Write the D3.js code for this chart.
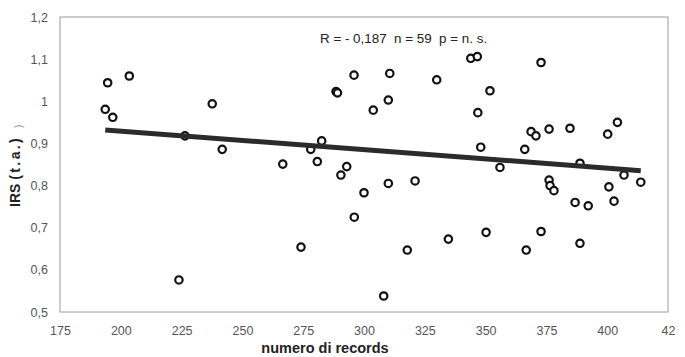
<!DOCTYPE html>
<meta charset="utf-8">
<head>
    <meta charset="utf-8">
    <title>IRS vs numero di records</title>
    <style>
        body { margin: 0; background: #fff; }
        svg { display: block; font-family: "Liberation Sans", Arial, sans-serif; }
    </style>
</head>
<body>
    <svg width="685" height="357"></svg>
    <script src="https://d3js.org/d3.v7.min.js"></script>
    <script>
        // numero di records (x) and IRS (t.a.) (y)
        var records = [194.6, 193.6, 196.7, 203.5, 223.9, 226.4, 237.6, 241.7, 266.6, 274.1,
            278.1, 280.8, 282.6, 288.5, 289.1, 290.5, 292.9, 295.9, 296.0, 300.0,
            303.8, 308.1, 310.0, 310.6, 310.0, 317.8, 321.0, 329.9, 334.7, 343.9,
            346.6, 346.8, 348.0, 350.2, 351.8, 355.9, 366.1, 366.7, 368.7, 370.7,
            372.8, 372.8, 376.1, 376.1, 376.5, 378.1, 384.7, 386.8, 388.8, 388.8,
            392.2, 400.2, 400.7, 402.8, 404.2, 406.9, 413.8];
        var irs = [1.044, 0.981, 0.962, 1.060, 0.576, 0.918, 0.994, 0.886, 0.851, 0.654,
            0.886, 0.857, 0.906, 1.023, 1.020, 0.825, 0.845, 1.062, 0.725, 0.783,
            0.979, 0.538, 1.003, 1.066, 0.805, 0.647, 0.811, 1.051, 0.673, 1.102,
            1.106, 0.973, 0.891, 0.689, 1.025, 0.843, 0.886, 0.647, 0.928, 0.918,
            1.092, 0.691, 0.934, 0.813, 0.800, 0.788, 0.936, 0.760, 0.853, 0.663,
            0.752, 0.922, 0.797, 0.763, 0.950, 0.825, 0.808];

        // regression line as drawn
        var fitIntercept = 1.0166;
        var fitSlope = -0.000438;

        var xTicks = [175, 200, 225, 250, 275, 300, 325, 350, 375, 400, 425];
        var xTickLabels = ["175", "200", "225", "250", "275", "300", "325", "350", "375", "400", "42"];
        var yTicks = [0.5, 0.6, 0.7, 0.8, 0.9, 1.0, 1.1, 1.2];
        var yTickLabels = ["0,5", "0,6", "0,7", "0,8", "0,9", "1", "1,1", "1,2"];

        var statsText = "R = - 0,187  n = 59  p = n. s.";

        var svg = d3.select("svg"),
            width = +svg.attr("width"),
            height = +svg.attr("height");

        var margin = { top: 17, right: 17, bottom: 45, left: 60 };
        var w = width - margin.left - margin.right,
            h = height - margin.top - margin.bottom;

        var g = svg.append("g")
            .attr("transform", "translate(" + margin.left + "," + margin.top + ")");

        var x = d3.scaleLinear().domain([175, 425]).range([0, w]);
        var y = d3.scaleLinear().domain([0.5, 1.2]).range([h, 0]);

        // frame
        g.append("rect")
            .attr("width", w)
            .attr("height", h)
            .attr("fill", "none")
            .attr("stroke", "#9a9a9a")
            .attr("stroke-width", 1);

        var xAxis = g.append("g")
            .attr("transform", "translate(0," + h + ")")
            .call(d3.axisBottom(x)
                .tickValues(xTicks)
                .tickSize(0)
                .tickPadding(14)
                .tickFormat(function (d, i) { return xTickLabels[i]; }));

        var yAxis = g.append("g")
            .call(d3.axisLeft(y)
                .tickValues(yTicks)
                .tickSize(0)
                .tickPadding(12)
                .tickFormat(function (d, i) { return yTickLabels[i]; }));

        [xAxis, yAxis].forEach(function (a) {
            a.select(".domain").remove();
            a.selectAll("text")
                .style("font-family", "Liberation Sans, Arial, sans-serif")
                .style("font-size", "12.5px")
                .style("fill", "#555");
        });

        var points = records.map(function (r, i) { return { x: r, y: irs[i] }; });

        // points
        g.append("g")
            .selectAll("circle")
            .data(points)
            .enter().append("circle")
            .attr("cx", function (d) { return x(d.x); })
            .attr("cy", function (d) { return y(d.y); })
            .attr("r", 3.7)
            .attr("fill", "#fff")
            .attr("stroke", "#111")
            .attr("stroke-width", 2.2);

        // regression line over the points
        var xExt = d3.extent(records);
        g.append("line")
            .attr("x1", x(xExt[0]))
            .attr("y1", y(fitIntercept + fitSlope * xExt[0]))
            .attr("x2", x(xExt[1]))
            .attr("y2", y(fitIntercept + fitSlope * xExt[1]))
            .attr("stroke", "#2b2b2b")
            .attr("stroke-width", 5);

        // stats annotation
        svg.append("text")
            .attr("x", 320)
            .attr("y", 43)
            .attr("xml:space", "preserve")
            .style("white-space", "pre")
            .style("font-size", "13.4px")
            .style("fill", "#222")
            .text(statsText);

        // axis titles
        svg.append("text")
            .attr("x", 325)
            .attr("y", 353)
            .attr("text-anchor", "middle")
            .style("font-size", "14.5px")
            .style("font-weight", "bold")
            .style("fill", "#222")
            .text("numero di records");

        var yTitle = svg.append("text")
            .attr("transform", "translate(20,207) rotate(-90)")
            .attr("text-anchor", "start")
            .style("font-size", "14px")
            .style("font-weight", "bold")
            .style("fill", "#222")
            .attr("xml:space", "preserve")
            .style("white-space", "pre");
        yTitle.append("tspan").text("IRS ");
        yTitle.append("tspan").style("letter-spacing", "2.4px").text("(t.a.)");

        // stray bracket next to the title in the source
        svg.append("text")
            .attr("transform", "translate(22,128) rotate(-90)")
            .attr("text-anchor", "start")
            .style("font-size", "10px")
            .style("fill", "#888")
            .text(")");
    </script>
</body>
